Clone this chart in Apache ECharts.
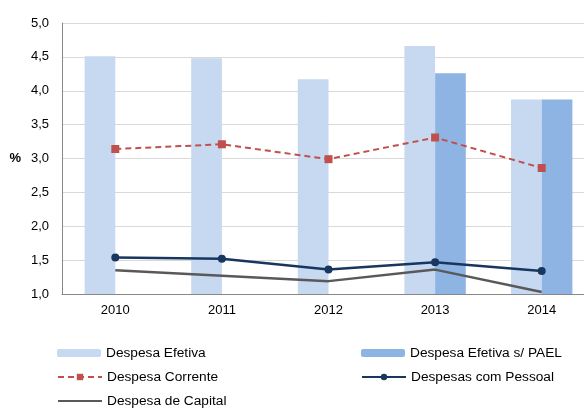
<!DOCTYPE html>
<html><head><meta charset="utf-8">
<script src="https://cdn.jsdelivr.net/npm/echarts@6/dist/echarts.min.js"></script>
<style>html,body{margin:0;padding:0;background:#fff}#c{width:584px;height:408px}</style>
</head><body><div id="c"></div>
<script>
const categories = ['2010','2011','2012','2013','2014'];
const despesaEfetiva = [4.51, 4.48, 4.17, 4.66, 3.87];
const despesaEfetivaPAEL = [0, 0, 0, 4.26, 3.87];
const despesaCorrente = [3.14, 3.21, 2.99, 3.31, 2.86];
const despesasPessoal = [1.54, 1.52, 1.36, 1.47, 1.34];
const despesaCapital = [1.35, 1.27, 1.19, 1.36, 1.03];

const font = 'Liberation Sans, Arial, sans-serif';
const chart = echarts.init(document.getElementById('c'), null, {renderer:'canvas'});
const legendText = {fontFamily: font, fontSize: 13.7, color: '#000'};
function lg(left, top, item) {
  return {left: left, top: top, padding: 0, itemWidth: 44, itemHeight: 8, itemGap: 0,
    textStyle: legendText, data: [item]};
}
chart.setOption({
  animation: false,
  textStyle: {fontFamily: font},
  grid: {left: 62, top: 23, bottom: 114, width: 533, containLabel: false, outerBoundsMode: 'none'},
  legend: [
    lg(57, 346, 'Despesa Efetiva'),
    lg(57, 370, 'Despesa Corrente'),
    lg(57, 394, {name:'Despesa de Capital', itemStyle:{opacity:0}}),
    lg(361, 346, 'Despesa Efetiva s/ PAEL'),
    lg(361, 370, 'Despesas com Pessoal')
  ],
  xAxis: {type:'category', data: categories,
    axisLine:{lineStyle:{color:'#888', width:1}}, axisTick:{show:false},
    axisLabel:{color:'#000', fontSize:13, fontFamily: font, margin: 10}},
  yAxis: {type:'value', min:1, max:5, interval:0.5,
    name:'%', nameLocation:'middle', nameRotate:0, nameGap:41,
    nameTextStyle:{color:'#000', fontSize:13, fontWeight:'bold', fontFamily: font},
    axisLine:{show:true, lineStyle:{color:'#888', width:1}}, axisTick:{show:false},
    splitLine:{lineStyle:{color:'#D9D9D9', width:1}},
    axisLabel:{color:'#000', fontSize:13, fontFamily: font, margin: 13,
      formatter: v => v.toFixed(1).replace('.', ',')}},
  series: [
    {name:'Despesa Efetiva', type:'bar', data: despesaEfetiva, barWidth: 30.7, barGap: '0%',
     itemStyle:{color:'#C6D9F1'}},
    {name:'Despesa Efetiva s/ PAEL', type:'bar', data: despesaEfetivaPAEL, barWidth: 30.7,
     itemStyle:{color:'#8EB4E3'}},
    {name:'Despesa Corrente', type:'line', data: despesaCorrente, symbol:'rect', symbolSize: 8,
     lineStyle:{color:'#C0504D', width:2, type:[6,4]}, itemStyle:{color:'#C0504D'}},
    {name:'Despesas com Pessoal', type:'line', data: despesasPessoal, symbol:'circle', symbolSize: 8,
     lineStyle:{color:'#17375E', width:2.5}, itemStyle:{color:'#17375E'}},
    {name:'Despesa de Capital', type:'line', data: despesaCapital, symbol:'none',
     lineStyle:{color:'#595959', width:2.5}, itemStyle:{color:'#595959'}}
  ]
});
</script></body></html>
